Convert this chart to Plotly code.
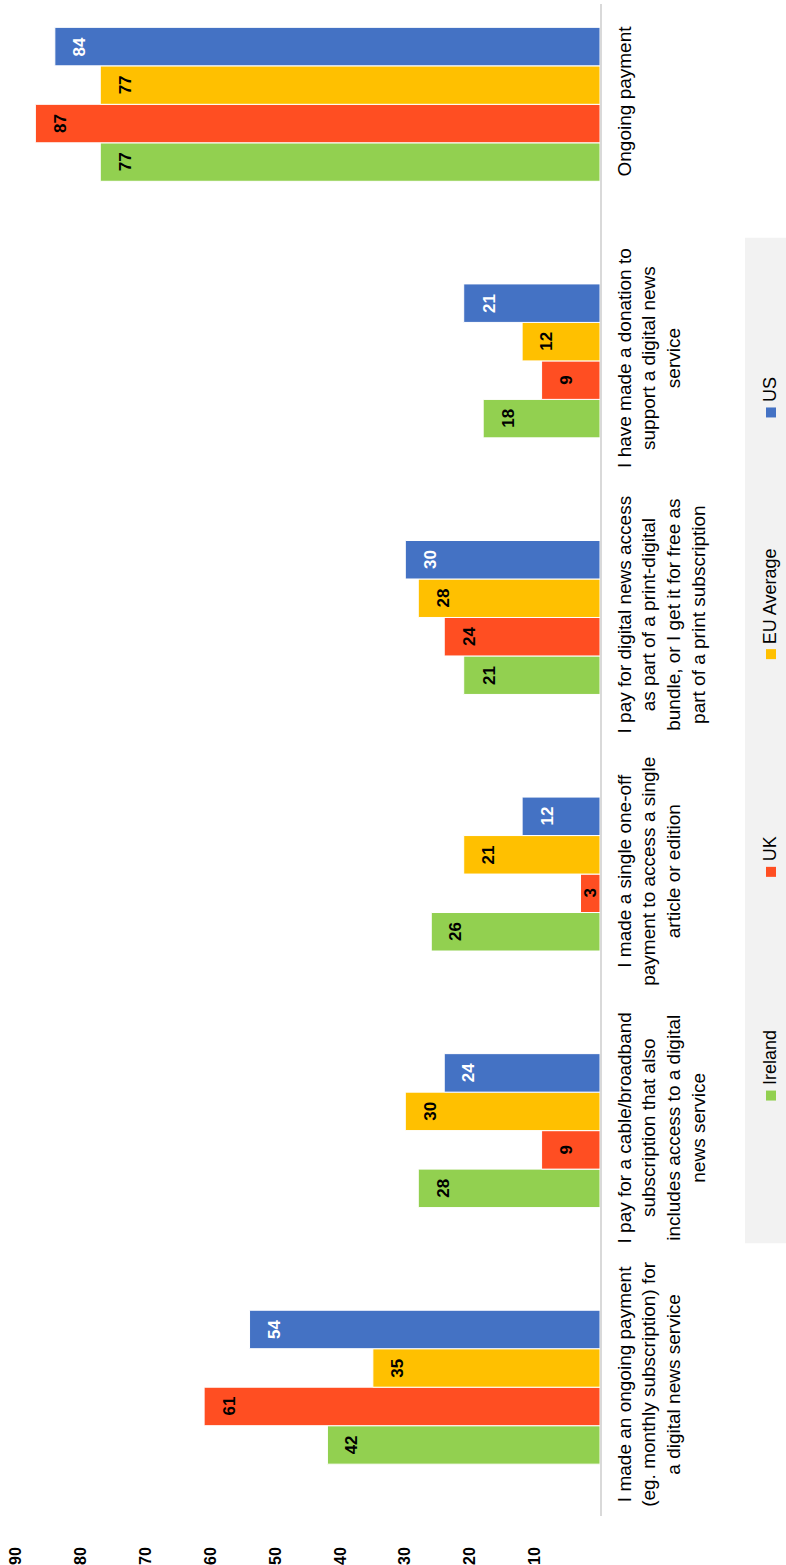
import plotly.graph_objects as go

# ---- data -------------------------------------------------------------
categories = [
    "I made an ongoing payment<br>(eg. monthly subscription) for<br>a digital news service",
    "I pay for a cable/broadband<br>subscription that also<br>includes access to a digital<br>news service",
    "I made a single one-off<br>payment to access a single<br>article or edition",
    "I pay for digital news access<br>as part of a print-digital<br>bundle, or I get it for free as<br>part of a print subscription",
    "I have made a donation to<br>support a digital news<br>service",
    "Ongoing payment",
]
ireland = [42, 28, 26, 21, 18, 77]
uk = [61, 9, 3, 24, 9, 87]
eu_average = [35, 30, 21, 28, 12, 77]
us = [54, 24, 12, 30, 21, 84]
series_names = ["Ireland", "UK", "EU Average", "US"]
tick_values = [10, 20, 30, 40, 50, 60, 70, 80, 90]

# ---- styling ----------------------------------------------------------
colors = ["#92D050", "#FF4E22", "#FFC000", "#4472C4"]
label_colors = ["#000000", "#000000", "#000000", "#FFFFFF"]
W, H = 786, 1565
ML, MR, MT, MB = 0, 186, 4, 47
PLOT_W = W - ML - MR
PLOT_H = H - MT - MB
X_MAX = 92.45
Y_RANGE = [-0.502, 5.391]
BARGAP = 0.4
FONT = "Liberation Sans, Arial, sans-serif"

series_values = [ireland, uk, eu_average, us]
px_per_unit = PLOT_W / X_MAX
bar_w = (1 - BARGAP) / len(series_values)

fig = go.Figure()
for name, vals, col in zip(series_names, series_values, colors):
    fig.add_trace(go.Bar(
        name=name,
        y=categories,
        x=vals,
        orientation="h",
        marker=dict(color=col, line=dict(color="#FFFFFF", width=1)),
        showlegend=False,
        hoverinfo="x+name",
    ))

# value labels, rotated, just inside the far end of each bar
annotations = []
for i, (vals, lc) in enumerate(zip(series_values, label_colors)):
    offset = (i - (len(series_values) - 1) / 2) * bar_w
    for j, v in enumerate(vals):
        annotations.append(dict(
            x=v, y=j + offset, xref="x", yref="y",
            text=str(v), showarrow=False, textangle=-90,
            xanchor="center", yanchor="middle",
            xshift=min(25, v * px_per_unit / 2),
            font=dict(family=FONT, size=17, color=lc, weight="bold"),
        ))

# legend drawn sideways in a grey panel to the right of the categories
def px_to_paper_x(px):
    return (px - ML) / PLOT_W

def px_to_paper_y(py):
    return (H - MB - py) / PLOT_H

shapes = [dict(
    type="rect", xref="paper", yref="paper", layer="below",
    x0=px_to_paper_x(745), x1=px_to_paper_x(790),
    y0=px_to_paper_y(1245), y1=px_to_paper_y(238),
    fillcolor="#F2F2F2", line=dict(width=0),
)]
legend_square_y = [1097, 873, 655, 413]
for name, col, sy in zip(series_names, colors, legend_square_y):
    shapes.append(dict(
        type="rect", xref="paper", yref="paper",
        x0=px_to_paper_x(766), x1=px_to_paper_x(776),
        y0=px_to_paper_y(sy + 5), y1=px_to_paper_y(sy - 5),
        fillcolor=col, line=dict(width=0),
    ))
    annotations.append(dict(
        x=px_to_paper_x(770), y=px_to_paper_y(sy - 8),
        xref="paper", yref="paper", text=name, showarrow=False,
        textangle=-90, xanchor="center", yanchor="bottom",
        font=dict(family=FONT, size=18, color="#000000"),
    ))

fig.update_layout(
    width=W, height=H,
    margin=dict(l=ML, r=MR, t=MT, b=MB),
    paper_bgcolor="#FFFFFF", plot_bgcolor="#FFFFFF",
    barmode="group", bargap=BARGAP, bargroupgap=0,
    annotations=annotations, shapes=shapes,
    showlegend=False,
    font=dict(family=FONT, color="#000000"),
)
fig.update_xaxes(
    range=[X_MAX, 0], tickvals=tick_values, tickangle=-90,
    showgrid=False, zeroline=False, showline=False, ticks="",
    ticklabelstandoff=27,
    tickfont=dict(family=FONT, size=16, color="#000000", weight="bold"),
)
fig.update_yaxes(
    type="category", range=Y_RANGE, side="right", tickangle=-90,
    showgrid=False, zeroline=False, showline=True,
    linecolor="#D9D9D9", linewidth=2, ticks="",
    ticklabelstandoff=6,
    tickfont=dict(family=FONT, size=19, color="#000000"),
)

fig.write_html("out.html")
